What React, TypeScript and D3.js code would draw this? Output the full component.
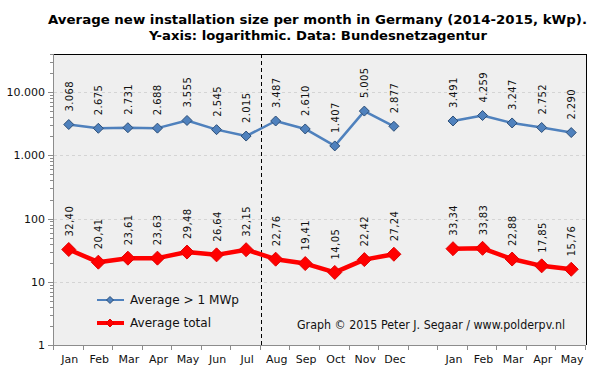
import React, { useEffect, useRef } from 'react';
import * as d3 from 'd3';

// months; the empty slot separates 2014 from 2015
const months = ['Jan', 'Feb', 'Mar', 'Apr', 'May', 'Jun', 'Jul', 'Aug', 'Sep', 'Oct', 'Nov', 'Dec', '', 'Jan', 'Feb', 'Mar', 'Apr', 'May'];
const bigValues = [3068, 2675, 2731, 2688, 3555, 2545, 2015, 3487, 2610, 1407, 5005, 2877, null, 3491, 4259, 3247, 2752, 2290];
const bigLabels = ['3.068', '2.675', '2.731', '2.688', '3.555', '2.545', '2.015', '3.487', '2.610', '1.407', '5.005', '2.877', '', '3.491', '4.259', '3.247', '2.752', '2.290'];
const totalValues = [32.4, 20.41, 23.61, 23.63, 29.48, 26.64, 32.15, 22.76, 19.41, 14.05, 22.42, 27.24, null, 33.34, 33.83, 22.88, 17.85, 15.76];
const totalLabels = ['32,40', '20,41', '23,61', '23,63', '29,48', '26,64', '32,15', '22,76', '19,41', '14,05', '22,42', '27,24', '', '33,34', '33,83', '22,88', '17,85', '15,76'];
const yTicks = [1, 10, 100, 1000, 10000];
const yTickLabels = ['1', '10', '100', '1.000', '10.000'];

const FONT = '"DejaVu Sans", Verdana, sans-serif';

export default function App() {
  const svgRef = useRef<SVGSVGElement>(null);

  useEffect(() => {
    if (!svgRef.current) return;
    const W = 601, H = 374;
    const left = 54, right = 586, top = 54, bottom = 345;

    const svg = d3.select(svgRef.current);
    svg.selectAll('*').remove();
    svg.attr('width', W).attr('height', H);

    svg.append('rect').attr('width', W).attr('height', H).attr('fill', '#fff');

    const idx = months.map((_d, i) => String(i));
    const x = d3.scaleBand().domain(idx).range([left, right]);
    const cx = (i: number) => (x(String(i)) || 0) + x.bandwidth() / 2;
    const y = d3.scaleLog().domain([1, 40000]).range([bottom, top]);

    // plot background
    svg.append('rect')
      .attr('x', left).attr('y', top)
      .attr('width', right - left).attr('height', bottom - top)
      .attr('fill', '#efefef');

    // grid
    svg.append('g')
      .selectAll('line')
      .data(yTicks.slice(1))
      .enter()
      .append('line')
      .attr('x1', left).attr('x2', right)
      .attr('y1', d => Math.round(y(d)) + 0.5).attr('y2', d => Math.round(y(d)) + 0.5)
      .attr('stroke', '#d4d4d4')
      .attr('stroke-dasharray', '3,3');

    // frame: top and right black, left and bottom grey axes
    svg.append('line').attr('x1', left).attr('x2', right + 0.5).attr('y1', top + 0.5).attr('y2', top + 0.5).attr('stroke', '#000');
    svg.append('line').attr('x1', right + 0.5).attr('x2', right + 0.5).attr('y1', top).attr('y2', bottom).attr('stroke', '#000');
    svg.append('line').attr('x1', left - 0.5).attr('x2', left - 0.5).attr('y1', top).attr('y2', bottom + 1).attr('stroke', '#8c8c8c');
    svg.append('line').attr('x1', left).attr('x2', right).attr('y1', bottom + 0.5).attr('y2', bottom + 0.5).attr('stroke', '#8c8c8c');

    // y ticks: major + minor
    const minor: number[] = [];
    for (let p = 1; p <= 10000; p *= 10) {
      for (let k = 2; k <= 9; k++) if (p * k <= 40000) minor.push(p * k);
    }
    svg.append('g')
      .selectAll('line')
      .data(minor)
      .enter()
      .append('line')
      .attr('x1', left - 4).attr('x2', left)
      .attr('y1', d => Math.round(y(d)) + 0.5).attr('y2', d => Math.round(y(d)) + 0.5)
      .attr('stroke', '#8c8c8c');
    svg.append('g')
      .selectAll('line')
      .data(yTicks)
      .enter()
      .append('line')
      .attr('x1', left - 6).attr('x2', left)
      .attr('y1', d => Math.round(y(d)) + 0.5).attr('y2', d => Math.round(y(d)) + 0.5)
      .attr('stroke', '#8c8c8c');
    svg.append('g')
      .selectAll('text')
      .data(yTicks)
      .enter()
      .append('text')
      .attr('x', left - 9)
      .attr('y', d => y(d) + 4)
      .attr('text-anchor', 'end')
      .attr('font-family', FONT)
      .attr('font-size', 11)
      .attr('fill', '#111')
      .text((_d, i) => yTickLabels[i]);

    // x ticks at band boundaries
    svg.append('g')
      .selectAll('line')
      .data(d3.range(months.length + 1))
      .enter()
      .append('line')
      .attr('x1', i => Math.round(left + i * x.bandwidth()) - 0.5)
      .attr('x2', i => Math.round(left + i * x.bandwidth()) - 0.5)
      .attr('y1', bottom).attr('y2', bottom + 5)
      .attr('stroke', '#8c8c8c');
    svg.append('g')
      .selectAll('text')
      .data(months)
      .enter()
      .append('text')
      .attr('x', (_d, i) => cx(i) + 1)
      .attr('y', 363)
      .attr('text-anchor', 'middle')
      .attr('font-family', FONT)
      .attr('font-size', 11)
      .attr('fill', '#111')
      .text(d => d);

    // dashed separator Jul | Aug
    const sepX = Math.round(left + 7 * x.bandwidth()) + 0.5;
    svg.append('line')
      .attr('x1', sepX).attr('x2', sepX)
      .attr('y1', top).attr('y2', bottom)
      .attr('stroke', '#000')
      .attr('stroke-dasharray', '4,3');

    const diamond = (s: number) => `M0,${-s}L${s},0L0,${s}L${-s},0Z`;

    const drawSeries = (vals: (number | null)[], labels: string[], color: string, edge: string, width: number, size: number) => {
      const line = d3.line<number | null>()
        .defined(d => d != null)
        .x((_d, i) => cx(i))
        .y(d => y(d as number));
      svg.append('path')
        .datum(vals)
        .attr('d', line)
        .attr('fill', 'none')
        .attr('stroke', color)
        .attr('stroke-width', width)
        .attr('stroke-linejoin', 'round');
      const pts = vals.map((v, i) => ({ v, i })).filter(p => p.v != null);
      svg.append('g')
        .selectAll('path')
        .data(pts)
        .enter()
        .append('path')
        .attr('transform', p => `translate(${cx(p.i)},${y(p.v as number)})`)
        .attr('d', diamond(size))
        .attr('fill', color)
        .attr('stroke', edge)
        .attr('stroke-width', 1);
      svg.append('g')
        .selectAll('text')
        .data(pts)
        .enter()
        .append('text')
        .attr('transform', p => `translate(${cx(p.i) + 4},${y(p.v as number) - 13}) rotate(-90)`)
        .attr('font-family', FONT)
        .attr('font-size', 10)
        .attr('letter-spacing', 0.4)
        .attr('fill', '#111')
        .text(p => labels[p.i]);
    };

    drawSeries(bigValues, bigLabels, '#4f81bd', '#2d4f78', 2.5, 5);
    drawSeries(totalValues, totalLabels, '#ff0000', '#e00000', 4.5, 7);

    // legend
    const lg = svg.append('g');
    lg.append('line').attr('x1', 97).attr('x2', 124).attr('y1', 300).attr('y2', 300).attr('stroke', '#4f81bd').attr('stroke-width', 2);
    lg.append('path').attr('transform', 'translate(110,300)').attr('d', diamond(3.5)).attr('fill', '#4f81bd').attr('stroke', '#2d4f78');
    lg.append('text').attr('x', 130).attr('y', 304).attr('font-family', FONT).attr('font-size', 12).attr('fill', '#111')
      .attr('textLength', 109).attr('lengthAdjust', 'spacingAndGlyphs').text('Average > 1 MWp');
    lg.append('line').attr('x1', 97).attr('x2', 124).attr('y1', 323).attr('y2', 323).attr('stroke', '#ff0000').attr('stroke-width', 4);
    lg.append('path').attr('transform', 'translate(110,323)').attr('d', diamond(4)).attr('fill', '#ff0000').attr('stroke', '#e00000');
    lg.append('text').attr('x', 130).attr('y', 327).attr('font-family', FONT).attr('font-size', 12).attr('fill', '#111')
      .attr('textLength', 81).attr('lengthAdjust', 'spacingAndGlyphs').text('Average total');

    svg.append('text')
      .attr('x', 297).attr('y', 329)
      .attr('font-family', FONT).attr('font-size', 11.5).attr('fill', '#111')
      .attr('textLength', 268).attr('lengthAdjust', 'spacingAndGlyphs')
      .text('Graph \u00a9 2015 Peter J. Segaar / www.polderpv.nl');

    // title
    svg.append('text')
      .attr('x', 317.5).attr('y', 23.5)
      .attr('text-anchor', 'middle')
      .attr('font-family', FONT).attr('font-size', 13).attr('font-weight', 'bold').attr('fill', '#000')
      .attr('textLength', 539).attr('lengthAdjust', 'spacingAndGlyphs')
      .text('Average new installation  size per month in Germany (2014-2015, kWp).');
    svg.append('text')
      .attr('x', 318).attr('y', 40)
      .attr('text-anchor', 'middle')
      .attr('font-family', FONT).attr('font-size', 13).attr('font-weight', 'bold').attr('fill', '#000')
      .attr('textLength', 338).attr('lengthAdjust', 'spacingAndGlyphs')
      .text('Y-axis: logarithmic.  Data: Bundesnetzagentur');
  }, []);

  return <svg ref={svgRef} style={{ position: 'absolute', left: 0, top: 0, display: 'block' }} />;
}
